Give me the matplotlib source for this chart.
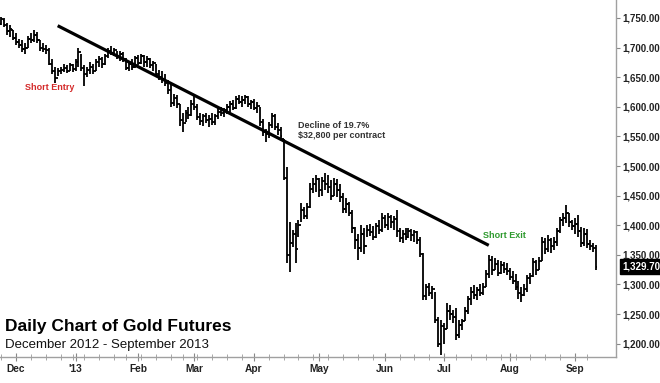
import matplotlib
matplotlib.use('Agg')
import matplotlib.pyplot as plt
import matplotlib.transforms as mtransforms
import numpy as np
import pandas as pd

plt.rcParams['font.family'] = ['Liberation Sans', 'DejaVu Sans']

# trading days shown on the chart (late Nov 2012 - mid Sep 2013)
holidays = ['2012-12-25', '2013-01-01', '2013-01-21', '2013-02-18',
            '2013-03-29', '2013-05-27', '2013-07-04', '2013-09-02']
days = pd.bdate_range('2012-11-26', '2013-09-12')
days = days[~days.isin(pd.to_datetime(holidays))]

opens = [1740, 1747, 1738, 1728, 1730, 1716, 1710, 1705, 1698, 1700,
         1715, 1712, 1722, 1712, 1700, 1698, 1696, 1672, 1660, 1648,
         1660, 1662, 1665, 1660, 1670, 1664, 1676, 1692, 1665, 1655,
         1662, 1668, 1660, 1676, 1680, 1672, 1686, 1695, 1690, 1696,
         1684, 1690, 1680, 1666, 1672, 1668, 1682, 1674, 1685, 1676,
         1680, 1670, 1674, 1656, 1650, 1645, 1640, 1628, 1606, 1615,
         1604, 1578, 1572, 1590, 1586, 1605, 1600, 1582, 1576, 1584,
         1578, 1580, 1574, 1584, 1592, 1590, 1594, 1600, 1605, 1598,
         1614, 1608, 1612, 1616, 1604, 1608, 1598, 1602, 1575, 1558,
         1554, 1570, 1584, 1566, 1560, 1545, 1480, 1350, 1370, 1385,
         1360, 1400, 1425, 1415, 1430, 1462, 1470, 1478, 1460, 1475,
         1470, 1465, 1450, 1470, 1460, 1448, 1428, 1436, 1420, 1395,
         1375, 1362, 1385, 1365, 1392, 1388, 1380, 1398, 1392, 1412,
         1400, 1414, 1405, 1410, 1390, 1378, 1386, 1380, 1390, 1384,
         1388, 1375, 1352, 1280, 1295, 1285, 1292, 1240, 1200, 1230,
         1224, 1255, 1250, 1245, 1215, 1232, 1238, 1255, 1276, 1288,
         1282, 1290, 1285, 1296, 1318, 1342, 1325, 1335, 1320, 1332,
         1326, 1322, 1312, 1305, 1296, 1285, 1282, 1292, 1310, 1315,
         1338, 1325, 1340, 1372, 1360, 1375, 1365, 1372, 1390, 1408,
         1412, 1420, 1405, 1398, 1402, 1390, 1370, 1385, 1368, 1365,
         1362]
highs = [1752, 1750, 1742, 1738, 1730, 1725, 1715, 1712, 1708, 1720,
         1725, 1730, 1726, 1712, 1708, 1705, 1700, 1680, 1668, 1665,
         1668, 1672, 1670, 1674, 1672, 1680, 1700, 1690, 1670, 1668,
         1675, 1672, 1680, 1686, 1684, 1690, 1700, 1702, 1700, 1695,
         1694, 1692, 1682, 1675, 1680, 1686, 1688, 1690, 1688, 1685,
         1682, 1678, 1672, 1662, 1660, 1655, 1645, 1640, 1622, 1620,
         1604, 1590, 1595, 1600, 1612, 1622, 1604, 1590, 1588, 1590,
         1586, 1590, 1588, 1598, 1600, 1598, 1605, 1610, 1612, 1618,
         1620, 1618, 1620, 1618, 1612, 1614, 1608, 1600, 1580, 1562,
         1575, 1590, 1588, 1572, 1566, 1545, 1498, 1405, 1392, 1404,
         1409, 1437, 1430, 1438, 1471, 1480, 1485, 1480, 1482, 1488,
         1484, 1476, 1480, 1478, 1470, 1454, 1446, 1440, 1425, 1397,
         1385, 1400, 1395, 1400, 1402, 1398, 1404, 1408, 1420, 1418,
         1420, 1418, 1416, 1425, 1395, 1392, 1395, 1395, 1394, 1392,
         1390, 1380, 1353, 1300, 1302, 1298, 1288, 1245, 1240, 1235,
         1268, 1265, 1257, 1260, 1240, 1242, 1262, 1280, 1296, 1299,
         1295, 1300, 1302, 1324, 1350, 1348, 1345, 1341, 1340, 1338,
         1336, 1328, 1322, 1318, 1305, 1295, 1300, 1316, 1320, 1345,
         1342, 1346, 1380, 1378, 1383, 1378, 1380, 1395, 1414, 1420,
         1434, 1420, 1409, 1412, 1417, 1397, 1395, 1393, 1375, 1370,
         1366]
lows = [1738, 1735, 1722, 1718, 1712, 1705, 1700, 1692, 1690, 1700,
        1708, 1710, 1708, 1695, 1692, 1690, 1670, 1655, 1640, 1652,
        1655, 1658, 1657, 1660, 1658, 1660, 1668, 1660, 1635, 1650,
        1655, 1656, 1660, 1668, 1666, 1670, 1682, 1688, 1685, 1680,
        1678, 1675, 1662, 1660, 1662, 1666, 1670, 1672, 1668, 1668,
        1665, 1660, 1652, 1645, 1640, 1635, 1622, 1600, 1602, 1598,
        1568, 1558, 1575, 1580, 1585, 1595, 1578, 1570, 1568, 1572,
        1566, 1570, 1570, 1580, 1585, 1582, 1588, 1592, 1594, 1596,
        1604, 1600, 1604, 1600, 1596, 1595, 1590, 1568, 1550, 1540,
        1548, 1565, 1560, 1552, 1545, 1476, 1336, 1321, 1363, 1336,
        1380, 1405, 1410, 1410, 1429, 1454, 1456, 1448, 1450, 1460,
        1454, 1443, 1450, 1448, 1440, 1420, 1420, 1415, 1387, 1360,
        1341, 1355, 1352, 1380, 1382, 1375, 1378, 1385, 1388, 1395,
        1392, 1395, 1392, 1380, 1372, 1370, 1375, 1378, 1374, 1372,
        1368, 1346, 1274, 1274, 1280, 1276, 1235, 1194, 1180, 1200,
        1225, 1240, 1235, 1206, 1210, 1223, 1238, 1250, 1265, 1276,
        1274, 1280, 1282, 1296, 1310, 1316, 1324, 1314, 1318, 1320,
        1316, 1307, 1300, 1290, 1275, 1270, 1280, 1287, 1300, 1312,
        1316, 1324, 1340, 1352, 1355, 1353, 1358, 1365, 1387, 1398,
        1404, 1397, 1392, 1385, 1380, 1363, 1365, 1361, 1358, 1355,
        1324]
closes = [1748, 1738, 1728, 1732, 1716, 1710, 1705, 1698, 1700, 1715,
          1712, 1722, 1712, 1700, 1698, 1696, 1672, 1660, 1648, 1660,
          1662, 1665, 1660, 1670, 1664, 1676, 1692, 1665, 1655, 1662,
          1668, 1660, 1676, 1680, 1672, 1686, 1695, 1690, 1696, 1684,
          1690, 1680, 1666, 1672, 1668, 1682, 1674, 1685, 1676, 1680,
          1670, 1674, 1656, 1650, 1645, 1640, 1628, 1606, 1615, 1604,
          1578, 1572, 1590, 1586, 1605, 1600, 1582, 1576, 1584, 1578,
          1580, 1574, 1584, 1592, 1590, 1594, 1600, 1605, 1598, 1614,
          1608, 1612, 1616, 1604, 1608, 1598, 1602, 1575, 1558, 1554,
          1570, 1584, 1566, 1560, 1550, 1480, 1350, 1370, 1385, 1360,
          1400, 1425, 1415, 1430, 1462, 1470, 1478, 1460, 1475, 1470,
          1465, 1450, 1470, 1460, 1448, 1428, 1436, 1420, 1395, 1375,
          1362, 1385, 1365, 1392, 1388, 1380, 1398, 1392, 1412, 1400,
          1414, 1405, 1410, 1390, 1378, 1386, 1380, 1390, 1384, 1388,
          1375, 1352, 1280, 1295, 1285, 1292, 1240, 1200, 1230, 1224,
          1255, 1250, 1245, 1215, 1232, 1238, 1255, 1276, 1288, 1282,
          1290, 1285, 1296, 1318, 1342, 1325, 1335, 1320, 1332, 1326,
          1322, 1312, 1305, 1296, 1285, 1282, 1292, 1310, 1315, 1338,
          1325, 1340, 1372, 1360, 1375, 1365, 1372, 1390, 1408, 1412,
          1420, 1405, 1398, 1402, 1390, 1370, 1385, 1368, 1365, 1362,
          1329.7]

month_labels = ['Dec', "'13", 'Feb', 'Mar', 'Apr', 'May', 'Jun', 'Jul', 'Aug', 'Sep']
price_ticks = list(range(1200, 1751, 50))

# trend line endpoints (trading day index, price)
trend_x = [19, 164]
trend_y = [1737, 1366]

x = np.arange(len(days))
month_starts = [i for i in range(1, len(days)) if days[i].month != days[i - 1].month]
week_starts = [0] + [i for i in range(1, len(days)) if days[i].weekday() <= days[i - 1].weekday()]

fig = plt.figure(figsize=(6.6, 3.83), dpi=100)
ax = fig.add_axes([0, 1 - 357 / 383, 616 / 660, 357 / 383])

# OHLC bars
ax.vlines(x, lows, highs, color='black', lw=1.3)
ax.hlines(opens, x - 0.55, x, color='black', lw=1.3)
ax.hlines(closes, x, x + 0.55, color='black', lw=1.3)

ax.plot(trend_x, trend_y, color='black', lw=2.3, solid_capstyle='butt')

ax.set_xlim(-0.4, 206.8)
ax.set_ylim(1177.4, 1780.4)

for side in ['left', 'top']:
    ax.spines[side].set_visible(False)
for side in ['right', 'bottom']:
    ax.spines[side].set_color('#a0a0a0')
    ax.spines[side].set_linewidth(1.0)

ax.yaxis.tick_right()
ax.set_yticks(price_ticks)
ax.set_yticklabels([f'{p:,.2f}' for p in price_ticks])
ax.tick_params(axis='y', direction='out', length=3, color='#888888', labelsize=7,
               labelcolor='#222222', pad=1.5)
for t in ax.get_yticklabels():
    t.set_fontweight('bold')

ax.set_xticks(month_starts)
ax.set_xticklabels(month_labels)
ax.set_xticks(week_starts, minor=True)
ax.tick_params(axis='x', which='major', direction='inout', length=6, color='#888888',
               labelsize=7.3, labelcolor='#222222', pad=2)
ax.tick_params(axis='x', which='minor', direction='inout', length=4, color='#999999')
for t in ax.get_xticklabels():
    t.set_fontweight('bold')

# annotations
ax.text(8, 1633, 'Short Entry', color='#d42a2a', fontsize=6.5, fontweight='bold',
        va='center', ha='left')
ax.text(100, 1569, 'Decline of 19.7%', color='#333333', fontsize=6.5,
        fontweight='bold', va='center', ha='left')
ax.text(100, 1552, '$32,800 per contract', color='#333333', fontsize=6.5,
        fontweight='bold', va='center', ha='left')
ax.text(162, 1383, 'Short Exit', color='#2e9a2e', fontsize=6.5, fontweight='bold',
        va='center', ha='left')

# last price box on the right axis
trans = mtransforms.blended_transform_factory(ax.transAxes, ax.transData)
ax.text(1.01, closes[-1], f'{closes[-1]:,.2f}', transform=trans, color='white',
        fontsize=7, fontweight='bold', va='center', ha='left',
        bbox=dict(boxstyle='square,pad=0.25', fc='black', ec='black'))

fig.text(5 / 660, 1 - 327 / 383, 'Daily Chart of Gold Futures', fontsize=12.5,
         fontweight='bold', color='black', va='center', ha='left')
fig.text(5 / 660, 1 - 345 / 383, 'December 2012 - September 2013', fontsize=9.5,
         color='#111111', va='center', ha='left')

fig.savefig('out.png', dpi=100, facecolor='white')
